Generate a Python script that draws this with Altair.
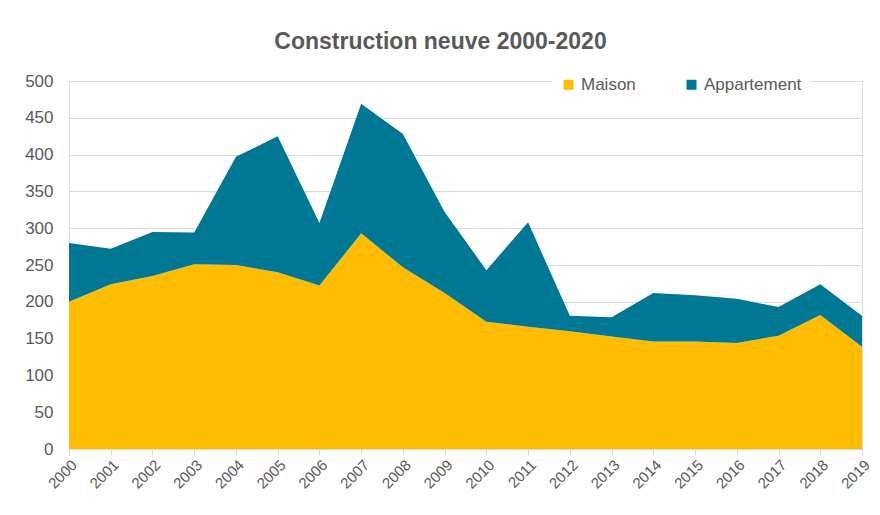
import altair as alt
import pandas as pd

years = [str(y) for y in range(2000, 2020)]
maison = [200, 224, 235, 251, 250, 240, 222, 293, 247, 212, 173, 166, 160, 153, 146, 146, 144, 154, 182, 139]
total = [280, 272, 295, 294, 397, 425, 307, 469, 428, 322, 243, 308, 181, 179, 212, 209, 204, 193, 224, 181]
appartement = [t - m for t, m in zip(total, maison)]
series = ["Maison", "Appartement"]
colors = ["#FFBC00", "#007893"]

rows = []
for i, y in enumerate(years):
    rows.append({"year": y, "type": "Maison", "value": maison[i], "ord": 0})
    rows.append({"year": y, "type": "Appartement", "value": appartement[i], "ord": 1})
df = pd.DataFrame(rows)

gray = "#595959"
font = "Liberation Sans"

chart = alt.Chart(df).mark_area(opacity=1).encode(
    x=alt.X("year:O", scale=alt.Scale(type="point", padding=0),
            axis=alt.Axis(title=None, labelAngle=-45, labelAlign="right", labelBaseline="top",
                          labelFontSize=15, labelColor=gray, labelFont=font, labelPadding=2,
                          tickColor="#d9d9d9", tickSize=6, domainColor="#d9d9d9", grid=False)),
    y=alt.Y("value:Q", stack="zero", scale=alt.Scale(domain=[0, 500], nice=False),
            axis=alt.Axis(title=None, values=list(range(0, 501, 50)), labelFontSize=17,
                          labelColor=gray, labelFont=font, labelPadding=16, ticks=False,
                          domain=False, gridColor="#d9d9d9", gridWidth=1)),
    color=alt.Color("type:N", scale=alt.Scale(domain=series, range=colors),
                    legend=alt.Legend(title=None, orient="none", legendX=483, legendY=-13,
                                      direction="horizontal", symbolType="square", symbolSize=100,
                                      labelFontSize=17, labelColor=gray, labelFont=font,
                                      columnPadding=47, fillColor="white", padding=8,
                                      symbolStrokeWidth=0, labelOffset=4)),
    order=alt.Order("ord:Q", sort="ascending"),
).properties(
    width=793, height=368,
    title=alt.TitleParams("Construction neuve 2000-2020", fontSize=23, font=font,
                          fontWeight="bold", color=gray, offset=14, dx=-25),
    autosize=alt.AutoSizeParams(type="none"),
    padding={"left": 61, "top": 73, "right": 10, "bottom": 58},
).configure_view(stroke=None).configure(background="white")

chart.save("out.html", embed_options={"renderer": "svg", "actions": False})
